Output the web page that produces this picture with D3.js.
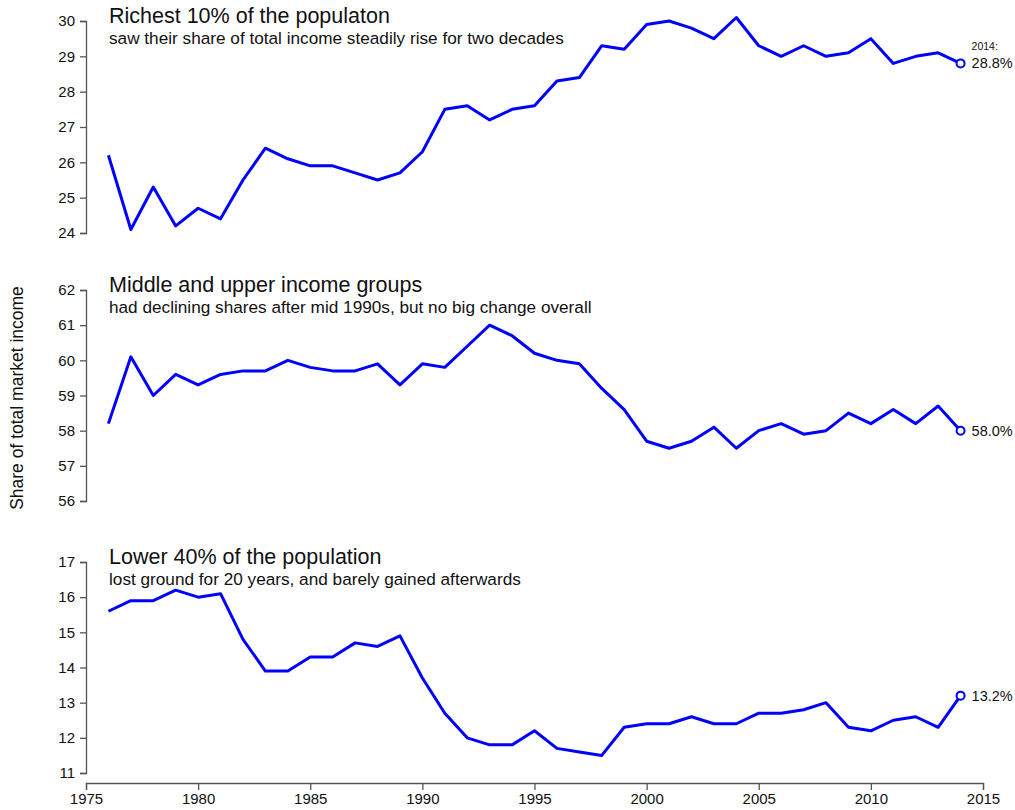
<html>
<head>
<script src="https://cdn.jsdelivr.net/npm/d3@7"></script>
<style>
  body { margin: 0; background: #fff; }
  text { font-family: "Liberation Sans", Arial, sans-serif; fill: #111; }
</style>
</head>
<body>
<svg id="chart" width="1015" height="810"></svg>
<script>
var years = d3.range(1976, 2015);

var top10 = [26.2, 24.1, 25.3, 24.2, 24.7, 24.4, 25.5, 26.4, 26.1, 25.9,
             25.9, 25.7, 25.5, 25.7, 26.3, 27.5, 27.6, 27.2, 27.5, 27.6,
             28.3, 28.4, 29.3, 29.2, 29.9, 30.0, 29.8, 29.5, 30.1, 29.3,
             29.0, 29.3, 29.0, 29.1, 29.5, 28.8, 29.0, 29.1, 28.8];

var middle = [58.2, 60.1, 59.0, 59.6, 59.3, 59.6, 59.7, 59.7, 60.0, 59.8,
              59.7, 59.7, 59.9, 59.3, 59.9, 59.8, 60.4, 61.0, 60.7, 60.2,
              60.0, 59.9, 59.2, 58.6, 57.7, 57.5, 57.7, 58.1, 57.5, 58.0,
              58.2, 57.9, 58.0, 58.5, 58.2, 58.6, 58.2, 58.7, 58.0];

var lower40 = [15.6, 15.9, 15.9, 16.2, 16.0, 16.1, 14.8, 13.9, 13.9, 14.3,
               14.3, 14.7, 14.6, 14.9, 13.7, 12.7, 12.0, 11.8, 11.8, 12.2,
               11.7, 11.6, 11.5, 12.3, 12.4, 12.4, 12.6, 12.4, 12.4, 12.7,
               12.7, 12.8, 13.0, 12.3, 12.2, 12.5, 12.6, 12.3, 13.2];

var titles = ["Richest 10% of the populaton",
              "Middle and upper income groups",
              "Lower 40% of the population"];
var subtitles = ["saw their share of total income steadily rise for two decades",
                 "had declining shares after mid 1990s, but no big change overall",
                 "lost ground for 20 years, and barely gained afterwards"];
var yDomains = [[24, 30], [56, 62], [11, 17]];
var xTicks = [1975, 1980, 1985, 1990, 1995, 2000, 2005, 2010, 2015];
var yLabel = "Share of total market income";

var panels = [
  {values: top10, top: 21, bottom: 233, year: true},
  {values: middle, top: 290, bottom: 501, year: false},
  {values: lower40, top: 562, bottom: 773, year: false}
];

var svg = d3.select("#chart");
var axisCol = "#555";
var ff = "'Liberation Sans', Arial, sans-serif";

var x = d3.scaleLinear().domain([1975, 2015]).range([86, 983]);

panels.forEach(function (p, i) {
  var y = d3.scaleLinear().domain(yDomains[i]).range([p.bottom, p.top]);
  var g = svg.append("g");

  var yAxis = d3.axisLeft(y).ticks(6).tickSize(6).tickPadding(5).tickFormat(d3.format("d"));
  var ga = g.append("g").attr("transform", "translate(86,0)").call(yAxis);
  ga.select(".domain").attr("stroke", axisCol).attr("stroke-width", 1.3);
  ga.selectAll(".tick line").attr("stroke", axisCol).attr("stroke-width", 1.3);
  ga.selectAll(".tick text").style("font-size", "15px").style("font-family", ff).attr("fill", "#111");

  g.append("text").attr("x", 109).attr("y", p.top + 2)
    .style("font-size", "21.5px").text(titles[i]);
  g.append("text").attr("x", 109).attr("y", p.top + 23)
    .style("font-size", "17.2px").text(subtitles[i]);

  var line = d3.line()
    .x(function (d, k) { return x(years[k]); })
    .y(function (d) { return y(d); });

  g.append("path").datum(p.values)
    .attr("d", line)
    .attr("fill", "none")
    .attr("stroke", "#0000ff")
    .attr("stroke-width", 3)
    .attr("stroke-linejoin", "round");

  var last = p.values[p.values.length - 1];
  var lx = x(years[years.length - 1]), ly = y(last);
  g.append("circle").attr("cx", lx).attr("cy", ly).attr("r", 4)
    .attr("fill", "#fff").attr("stroke", "#0000ff").attr("stroke-width", 2);
  g.append("text").attr("x", lx + 11).attr("y", ly + 5)
    .style("font-size", "14.5px").text(last.toFixed(1) + "%");
  if (p.year) {
    g.append("text").attr("x", lx + 11).attr("y", ly - 13)
      .style("font-size", "10.5px").text(years[years.length - 1] + ":");
  }
});

var xAxis = d3.axisBottom(x).tickValues(xTicks).tickSize(7).tickPadding(3).tickFormat(d3.format("d"));
var gx = svg.append("g").attr("transform", "translate(0,783)").call(xAxis);
gx.select(".domain").attr("stroke", axisCol).attr("stroke-width", 1.3);
gx.selectAll(".tick line").attr("stroke", axisCol).attr("stroke-width", 1.3);
gx.selectAll(".tick text").style("font-size", "15px").style("font-family", ff).attr("fill", "#111");

svg.append("text")
  .attr("transform", "translate(23,398) rotate(-90)")
  .attr("text-anchor", "middle")
  .style("font-size", "17.5px")
  .text(yLabel);
</script>
</body>
</html>
